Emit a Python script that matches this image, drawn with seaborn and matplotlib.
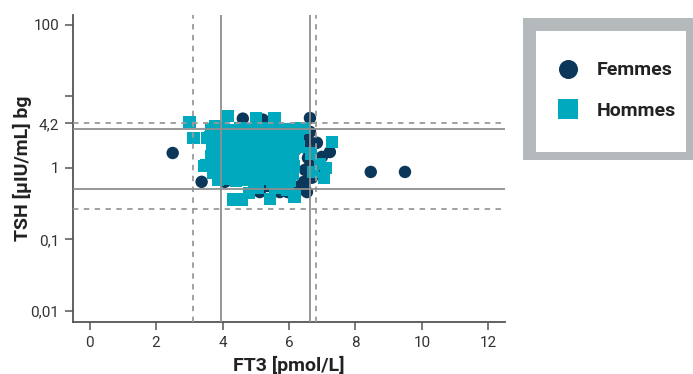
import pandas as pd
import matplotlib.pyplot as plt
import seaborn as sns
from matplotlib.lines import Line2D
from matplotlib.patches import Rectangle

# FT3 [pmol/L] et TSH [µIU/mL]
femmes_ft3 = [2.50, 3.37, 8.46, 9.49, 6.63, 4.61, 5.21, 7.23, 6.99, 6.84,
              6.63, 6.57, 6.51, 6.57, 6.63, 6.48, 6.69, 6.45, 6.78,
              5.12, 5.36, 5.72, 5.96, 6.33, 6.54, 6.48, 6.08, 6.00, 4.07,
              4.50, 5.00, 5.50, 6.00, 5.20, 4.20, 5.80, 6.20, 4.80, 5.60]
femmes_tsh = [1.62, 0.64, 0.88, 0.88, 5.00, 4.90, 4.75, 1.67, 1.43, 2.25,
              3.20, 2.46, 1.90, 1.38, 1.07, 0.94, 0.73, 0.64, 0.95,
              0.46, 0.56, 0.46, 0.46, 0.56, 0.46, 0.49, 0.58, 0.62, 0.64,
              2.00, 1.50, 1.00, 2.50, 3.00, 1.20, 0.80, 1.80, 0.90, 2.20]

hommes_ft3 = [3.01, 3.13, 3.55, 4.16, 5.00, 5.57, 3.77, 6.45, 7.29, 7.11,
              6.93, 7.05, 6.72, 6.66, 4.31, 4.58, 4.80, 5.42, 6.17, 5.05,
              5.60, 5.95, 3.46,
              3.67, 3.98, 4.25, 4.52, 4.79, 5.06, 5.33, 5.60, 5.87, 6.14, 6.30,
              3.64, 3.92, 4.19, 4.46, 4.73, 5.00, 5.27, 5.54, 5.81, 6.08, 6.27,
              3.70, 3.98, 4.25, 4.52, 4.79, 5.06, 5.33, 5.60, 5.87, 6.14, 6.30,
              3.67, 3.95, 4.22, 4.49, 4.76, 5.03, 5.30, 5.57, 5.84, 6.11,
              3.52, 3.80, 4.07, 4.34, 4.61, 4.88, 5.15, 5.42, 5.69, 5.96, 6.14,
              3.73, 4.01, 4.28, 4.55, 4.82, 5.09, 5.36, 5.63, 5.90, 6.11,
              3.86, 4.13, 4.40, 4.67, 4.94, 5.21, 5.48, 5.75, 6.02]
hommes_tsh = [4.40, 2.63, 2.63, 5.34, 5.00, 5.00, 3.87, 3.63, 2.31, 1.00,
              1.14, 0.73, 0.88, 1.60, 0.36, 0.36, 0.45, 0.37, 0.40, 0.53,
              0.52, 0.50, 1.07,
              3.45, 3.55, 3.40, 3.60, 3.50, 3.42, 3.58, 3.48, 3.52, 3.40, 3.55,
              2.70, 2.60, 2.66, 2.55, 2.70, 2.62, 2.58, 2.68, 2.60, 2.64, 2.56,
              1.95, 2.02, 1.92, 2.00, 1.97, 1.90, 2.04, 1.96, 1.99, 1.93, 2.00,
              1.47, 1.50, 1.44, 1.49, 1.46, 1.52, 1.45, 1.48, 1.43, 1.50,
              1.10, 1.08, 1.12, 1.09, 1.11, 1.07, 1.10, 1.13, 1.08, 1.10, 1.06,
              0.85, 0.87, 0.84, 0.86, 0.83, 0.85, 0.88, 0.84, 0.86, 0.82,
              0.68, 0.70, 0.66, 0.69, 0.67, 0.70, 0.65, 0.68, 0.66]

ref_ft3_solid = [3.95, 6.63]
ref_ft3_dashed = [3.1, 6.8]
ref_tsh_solid = [0.51, 3.5]
ref_tsh_dashed = [0.27, 4.2]

y_ticks = [0.01, 0.1, 1, 4.2, 10, 100]
y_ticklabels = ['0,01', '0,1', '1', '4,2', '', '100']
x_ticks = [0, 2, 4, 6, 8, 10, 12]

navy = '#0b375a'
teal = '#00a9bd'

df = pd.DataFrame({
    'FT3': femmes_ft3 + hommes_ft3,
    'TSH': femmes_tsh + hommes_tsh,
    'Sexe': ['Femmes'] * len(femmes_ft3) + ['Hommes'] * len(hommes_ft3),
})

sns.set_style('ticks')
plt.rcParams['font.family'] = ['Roboto', 'DejaVu Sans']

fig = plt.figure(figsize=(6.93, 3.74), dpi=100)
ax = fig.add_axes([73 / 693, 1 - 322 / 374, 432 / 693, 307 / 374])

sns.scatterplot(data=df, x='FT3', y='TSH', hue='Sexe', style='Sexe',
                markers={'Femmes': 'o', 'Hommes': 's'},
                palette={'Femmes': navy, 'Hommes': teal},
                s=80, linewidth=0, alpha=1, legend=False, ax=ax, zorder=2)

for v in ref_ft3_solid:
    ax.axvline(v, color='#8f8f8f', lw=1.3, zorder=3)
for v in ref_ft3_dashed:
    ax.axvline(v, color='#9a9a9a', lw=1.3, ls=(0, (3, 3)), zorder=3)
for v in ref_tsh_solid:
    ax.axhline(v, color='#8f8f8f', lw=1.3, zorder=3)
for v in ref_tsh_dashed:
    ax.axhline(v, color='#9a9a9a', lw=1.3, ls=(0, (3, 3)), zorder=3)

ax.set_yscale('log')
ax.set_ylim(0.0070, 138)
ax.set_xlim(-0.5, 12.5)
ax.set_yticks(y_ticks)
ax.set_yticklabels(y_ticklabels)
ax.yaxis.set_minor_locator(plt.NullLocator())
ax.set_xticks(x_ticks)

sns.despine(ax=ax)
for sp in ['left', 'bottom']:
    ax.spines[sp].set_color('#555555')
    ax.spines[sp].set_linewidth(1.3)
ax.tick_params(axis='both', length=6, width=1.1, color='#555555',
               labelsize=11, labelcolor='#333333', pad=4)

ax.set_xlabel('FT3 [pmol/L]', fontsize=14, fontweight='bold', color='#222222', labelpad=4)
ax.set_ylabel('TSH [µIU/mL] bg', fontsize=14, fontweight='bold', color='#222222', labelpad=-1)

# cadre gris de la légende
fig.patches.append(Rectangle((523 / 693, 1 - 160 / 374), 177 / 693, 142 / 374,
                             transform=fig.transFigure, facecolor='#b4b9bc',
                             edgecolor='none', zorder=0))
fig.patches.append(Rectangle((536 / 693, 1 - 152 / 374), 150 / 693, 121 / 374,
                             transform=fig.transFigure, facecolor='white',
                             edgecolor='none', zorder=1))

handles = [Line2D([], [], marker='o', ls='', color=navy, markersize=13.7, markeredgewidth=0),
           Line2D([], [], marker='s', ls='', color=teal, markersize=13.7, markeredgewidth=0)]
leg = fig.legend(handles, ['Femmes', 'Hommes'], loc='center left',
                 bbox_to_anchor=(558 / 693, 1 - 90.5 / 374), frameon=False,
                 prop={'size': 14, 'weight': 'bold'}, handlelength=1.0,
                 handletextpad=1.0, labelspacing=1.15, borderpad=0, borderaxespad=0)
for t in leg.get_texts():
    t.set_color('#222222')

fig.savefig('out.png', dpi=100)
